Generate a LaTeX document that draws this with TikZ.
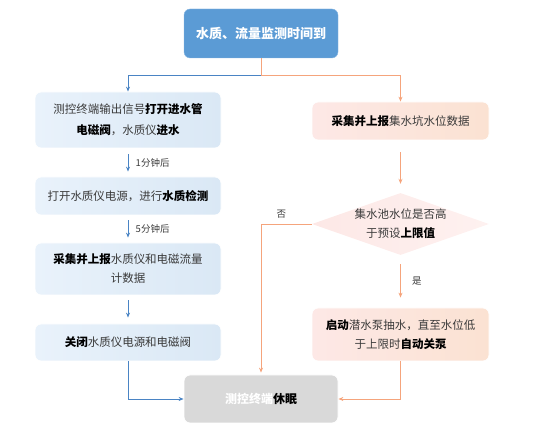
\documentclass[tikz,border=0pt]{standalone}
\usepackage{fontspec}
\setmainfont{Noto Sans CJK SC}
\usepackage{tikz}
\usetikzlibrary{shapes.geometric, calc, arrows.meta}

\definecolor{headblue}{HTML}{5B9BD5}
\definecolor{lineblue}{HTML}{4A84C4}
\definecolor{lineorange}{HTML}{F5A47C}
\definecolor{boxblueA}{HTML}{E9F2FB}
\definecolor{boxblueB}{HTML}{DAE8F5}
\definecolor{boxpinkA}{HTML}{FDE8E6}
\definecolor{boxpinkB}{HTML}{FBE2D2}
\definecolor{sleepgray}{HTML}{D9D9D9}
\definecolor{txt}{HTML}{3A3A3A}

\begin{document}
\begin{tikzpicture}[x=1pt, y=-1pt,
  txtfont/.style={font=\fontsize{11.5}{19}\selectfont, text=txt},
  bluebox/.style={rectangle, rounded corners=6pt, draw=white, line width=0.8pt,
    left color=boxblueA, right color=boxblueB, align=center, txtfont,
    minimum width=186pt},
  pinkbox/.style={rectangle, rounded corners=6pt, draw=white, line width=0.8pt,
    left color=boxpinkA, right color=boxpinkB, align=center, txtfont,
    minimum width=177pt},
  blueline/.style={draw=lineblue, line width=0.8pt},
  orangeline/.style={draw=lineorange, line width=0.8pt},
  tip/.style={-{Stealth[length=5pt, width=4pt]}},
  steplabel/.style={font=\fontsize{9.5}{11}\selectfont, text=txt}]

\useasboundingbox (0,0) rectangle (536,430);

% Start
\node[rectangle, rounded corners=6pt, draw=headblue!70!white, fill=headblue,
  minimum width=154pt, minimum height=49pt, text=white,
  font=\fontsize{13}{15}\selectfont\bfseries] (start) at (261,33.5) {水质、流量监测时间到};
\coordinate (split) at (261,75);

% Left branch: water quality
\node[bluebox, minimum height=56pt, font=\fontsize{11.5}{21}\selectfont] (open) at (128,120)
  {测控终端输出信号\textbf{\color{black}打开进水管}\\\textbf{\color{black}电磁阀}，水质仪\textbf{\color{black}进水}};
\node[bluebox, minimum height=38pt] (measure) at (128,196)
  {打开水质仪电源，进行\textbf{\color{black}水质检测}};
\node[bluebox, minimum height=52pt] (report) at (128,269)
  {\textbf{\color{black}采集并上报}水质仪和电磁流量\\计数据};
\node[bluebox, minimum height=37pt] (close) at (128,342.5)
  {\textbf{\color{black}关闭}水质仪电源和电磁阀};

% Right branch: sump level
\node[pinkbox, minimum height=38pt] (sump) at (400.5,121)
  {\textbf{\color{black}采集并上报}集水坑水位数据};
\node[diamond, minimum width=177pt, minimum height=62pt, inner sep=0pt,
  left color=boxpinkA, right color=boxpinkA!60!white,
  label={[align=center, txtfont]center:集水池水位是否高\\于预设\textbf{\color{black}上限值}}] (check) at (400.5,224) {};
\node[pinkbox, minimum height=53pt] (pump) at (400.5,334.5)
  {\textbf{\color{black}启动}潜水泵抽水，直至水位低\\于上限时\textbf{\color{black}自动关泵}};

% End
\node[rectangle, rounded corners=6pt, draw=white, line width=0.8pt, fill=sleepgray,
  minimum width=154pt, minimum height=48pt,
  font=\fontsize{12}{14}\selectfont\bfseries] (sleep) at (261,399)
  {\textcolor{white}{测控终端}\textcolor{black}{休眠}};

% Connectors
\draw[orangeline] (start.south) -- (split);
\draw[blueline, tip] (split) -| (open.north);
\draw[orangeline, tip] (split) -| (sump.north);

\draw[blueline, tip, shorten <=6pt, shorten >=5pt] (open) -- (measure)
  node[midway, right=4pt, steplabel] {1分钟后};
\draw[blueline, tip, shorten <=5pt, shorten >=5pt] (measure) -- (report)
  node[midway, right=4pt, steplabel] {5分钟后};
\draw[blueline, tip, shorten <=5pt, shorten >=6pt] (report) -- (close);
\draw[blueline, tip] (close.south) |- (sleep.west);

\draw[orangeline, tip, shorten <=12pt, shorten >=9pt] (sump) -- (check);
\draw[orangeline, tip, shorten <=9pt, shorten >=10pt] (check) -- (pump)
  node[midway, right=8pt, steplabel] {是};
\draw[orangeline, tip, shorten >=2pt] (check.west) -| (sleep.north)
  node[pos=0.3, above=2pt, steplabel] {否};
\draw[orangeline, tip] (pump.south) |- (sleep.east);

\end{tikzpicture}
\end{document}
